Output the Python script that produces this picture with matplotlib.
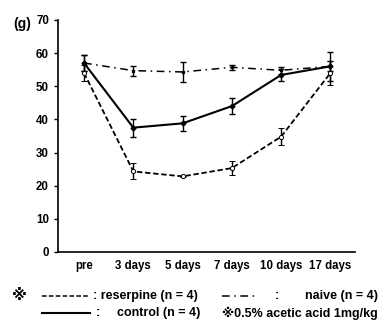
import matplotlib
matplotlib.use('Agg')
import matplotlib.pyplot as plt
from matplotlib.lines import Line2D

plt.rcParams['font.family'] = ['Liberation Sans', 'DejaVu Sans']
plt.rcParams['font.weight'] = 'bold'

days = ['pre', '3 days', '5 days', '7 days', '10 days', '17 days']
naive = [57.0, 54.7, 54.3, 55.7, 54.8, 56.0]
naive_err = [2.3, 1.5, 3.0, 0.8, 1.0, 1.5]
control = [57.0, 37.5, 38.8, 44.0, 53.4, 56.0]
control_err = [2.5, 2.7, 2.3, 2.3, 1.8, 4.3]
reserpine = [54.0, 24.3, 22.8, 25.3, 34.8, 54.0]
reserpine_err = [2.4, 2.4, 0.3, 2.2, 2.6, 3.5]

fig = plt.figure(figsize=(3.81, 3.21), dpi=100)
ax = fig.add_axes([0.152, 0.215, 0.78, 0.723])
x = range(len(days))

ax.errorbar(x, naive, yerr=naive_err, color='black', lw=1.1, ls=(0, (5, 3, 1, 3)),
            marker='s', ms=1.8, capsize=2, elinewidth=1, capthick=1)
ax.errorbar(x, control, yerr=control_err, color='black', lw=1.5, ls='-',
            marker='D', ms=2.5, capsize=2, elinewidth=1, capthick=1)
ax.errorbar(x, reserpine, yerr=reserpine_err, color='black', lw=1.3, ls=(0, (3, 1.5)),
            marker='o', ms=3, mfc='white', mew=0.7, capsize=2, elinewidth=1, capthick=1)

ax.set_xlim(-0.53, 5.5)
ax.set_ylim(0, 70)
ax.set_yticks(range(0, 71, 10))
ax.set_xticks(list(x))
ax.set_xticklabels(days)
ax.tick_params(axis='x', length=0, labelsize=8.3, pad=6)
ax.tick_params(axis='y', length=3, labelsize=8.3, width=1)
ax.spines['top'].set_visible(False)
ax.spines['right'].set_visible(False)
ax.spines['left'].set_linewidth(1.2)
ax.spines['bottom'].set_linewidth(1.2)

fig.text(13 / 381, 1 - 24 / 321, '(g)', fontsize=10, fontweight='bold', va='center')

# legend drawn by hand below the axes
y1 = 1 - 296 / 321
y2 = 1 - 313 / 321
fs = 9
fig.text(12 / 381, y1, '\u203b', fontsize=11, va='center', family=['DejaVu Sans'])
fig.add_artist(Line2D([42 / 381, 90 / 381], [y1, y1], color='black', lw=1.1, ls=(0, (3, 1.5))))
fig.text(93 / 381, y1, ': reserpine (n = 4)', fontsize=fs, va='center')
fig.add_artist(Line2D([222 / 381, 258 / 381], [y1, y1], color='black', lw=1.1, ls=(0, (5, 3, 1, 3))))
fig.text(275 / 381, y1, ':', fontsize=fs, va='center')
fig.text(378 / 381, y1, 'naive (n = 4)', fontsize=fs, va='center', ha='right')
fig.add_artist(Line2D([42 / 381, 90 / 381], [y2, y2], color='black', lw=1.5))
fig.text(96 / 381, y2, ':', fontsize=fs, va='center')
fig.text(200 / 381, y2, 'control (n = 4)', fontsize=fs, va='center', ha='right')
fig.text(378 / 381, y2, '\u203b0.5% acetic acid 1mg/kg', fontsize=fs, va='center', ha='right')

fig.savefig('out.png', dpi=100)
